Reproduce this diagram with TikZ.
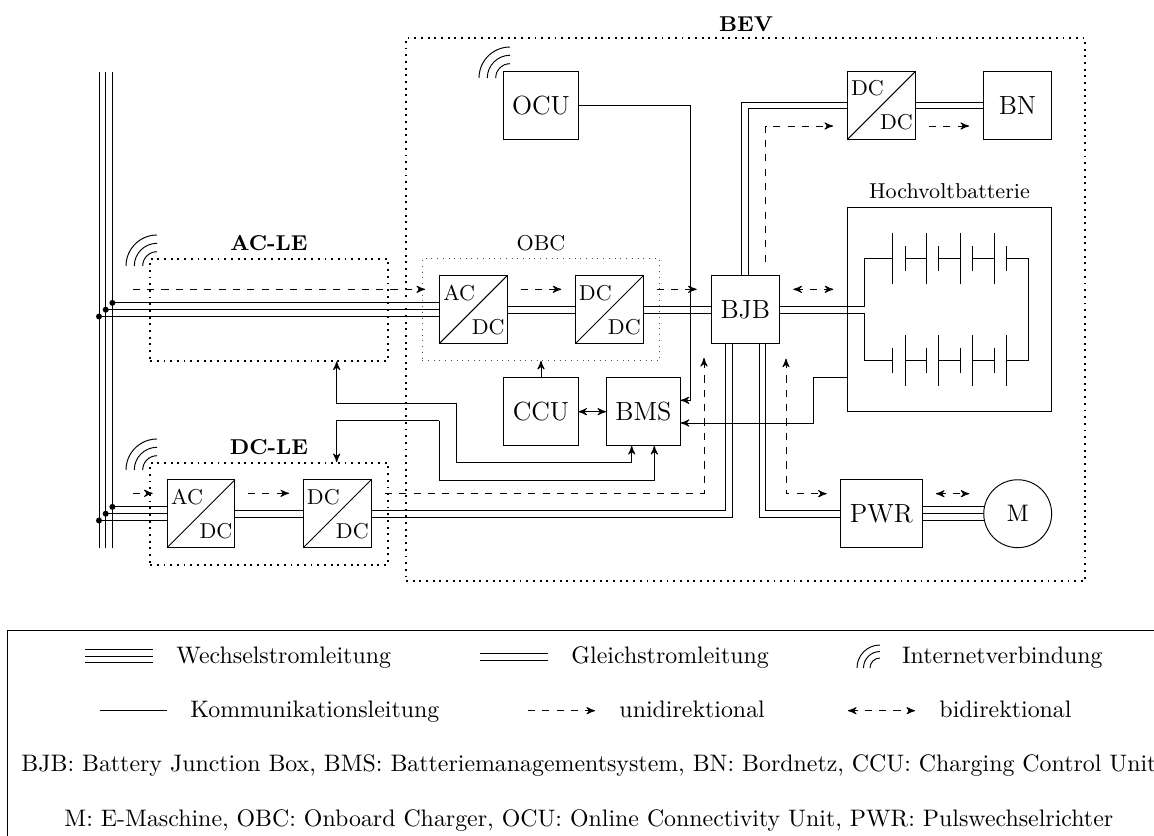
\documentclass[tikz,border=0pt]{standalone}
\usetikzlibrary{arrows,calc}
\tikzset{
  x=0.01473cm,y=-0.01473cm,
  >=stealth',
  bx/.style={draw,inner sep=0pt,outer sep=0pt,minimum width=1cm,minimum height=1cm},
  bxw/.style={bx,minimum width=1.1cm},
  zone/.style={draw,thick,dotted,inner sep=0pt,outer sep=0pt},
  softzone/.style={draw,dotted,inner sep=0pt,outer sep=0pt,black!70},
  title/.style={font=\small\bfseries,inner sep=0pt},
  small label/.style={font=\small,inner sep=0pt},
  conv/.style={font=\small,inner sep=0pt},
  legend/.style={anchor=base west,inner sep=0pt},
  junction/.style={circle,fill,inner sep=0pt,minimum size=1.6mm*0.55},
  comm/.style={->},
  sig/.style={dashed,->},
  bisig/.style={dashed,<->},
  big/.style={font=\fontsize{11}{13}\selectfont},
}
\newcommand{\wifi}[1]{%
  \draw ($(#1)+(-14.3,0)$) arc[start angle=180,end angle=270,radius=14.3];
  \draw ($(#1)+(-22.7,0)$) arc[start angle=180,end angle=270,radius=22.7];
  \draw ($(#1)+(-31,0)$) arc[start angle=180,end angle=270,radius=31];
}
\newcommand{\convlabels}[3]{%
  \draw (#1.south west) -- (#1.north east);
  \node[conv] (#1t) at ($(#1.center)+(-14,-17)$) {#2};
  \node[conv] (#1b) at ($(#1.center)+(15,17)$) {#3};
}
\begin{document}
\begin{tikzpicture}
\useasboundingbox (0,0) rectangle (1154,836);
% zones
\node[zone,minimum width=10cm,minimum height=8cm] (bev) at (745.5,309.4) {};
\node[title] (bevt) at (746,24) {BEV};
\node[zone,minimum width=3.5cm,minimum height=1.5cm] (acle) at (269,309.9) {};
\node[title] (aclet) at (269,243) {AC-LE};
\node[zone,minimum width=3.5cm,minimum height=1.5cm] (dcle) at (269,513.9) {};
\node[title] (dclet) at (269,447) {DC-LE};
\node[softzone,minimum width=3.5cm,minimum height=1.5cm] (obc) at (541,309.9) {};
\node[small label] (obct) at (541,243) {OBC};
% boxes
\node[bx] (dca) at (201,513.7) {}; \convlabels{dca}{AC}{DC}
\node[bx] (dcb) at (337.3,513.7) {}; \convlabels{dcb}{DC}{DC}
\node[bx] (oba) at (473.2,309.7) {}; \convlabels{oba}{AC}{DC}
\node[bx] (obb) at (609.3,309.7) {}; \convlabels{obb}{DC}{DC}
\node[bx,big] (bjb) at (745.3,309.7) {BJB};
\node[bxw,big] (ocu) at (541,105.5) {OCU};
\node[bxw,big] (ccu) at (541,411.7) {CCU};
\node[bxw,big] (bms) at (643.4,411.7) {BMS};
\node[bx] (tdc) at (881.4,105.5) {}; \convlabels{tdc}{DC}{DC}
\node[bx,big] (bn) at (1017.5,105.5) {BN};
\node[bx,big,minimum width=1.2cm] (pwr) at (881.3,513.7) {PWR};
\node[draw,circle,inner sep=0pt,outer sep=0pt,minimum size=1cm] (m) at (1017.7,513.7) {M};
\node[draw,inner sep=0pt,outer sep=0pt,minimum width=3cm,minimum height=3cm] (hv) at (949.5,309.5) {};
\node[small label] (hvt) at (949.5,191.5) {Hochvoltbatterie};
% wifi
\coordinate (wa) at (157,266); \wifi{wa}
\coordinate (wb) at (157,470); \wifi{wb}
\coordinate (wc) at (510,78); \wifi{wc}
% bus
\coordinate (b1t) at (99,72);   \coordinate (b1b) at (99,547.7);
\coordinate (b2t) at (105.7,72); \coordinate (b2b) at (105.7,547.7);
\coordinate (b3t) at (112.4,72); \coordinate (b3b) at (112.4,547.7);
\draw (b1t) -- (b1b); \draw (b2t) -- (b2b); \draw (b3t) -- (b3b);
% AC feeds
\coordinate (obt) at ($(oba.west)+(0,-6.8)$);
\coordinate (obu) at ($(oba.west)+(0,6.8)$);
\coordinate (dct) at ($(dca.west)+(0,-6.8)$);
\coordinate (dcu) at ($(dca.west)+(0,6.8)$);
\draw (obt) -- (obt -| b3t) node[junction] (j1) {};
\draw (oba.west) -- (oba.west -| b2t) node[junction] (j2) {};
\draw (obu) -- (obu -| b1t) node[junction] (j3) {};
\draw (dct) -- (dct -| b3t) node[junction] (j4) {};
\draw (dca.west) -- (dca.west -| b2t) node[junction] (j5) {};
\draw (dcu) -- (dcu -| b1t) node[junction] (j6) {};
% DC links
\foreach \a/\b in {dca/dcb,oba/obb,obb/bjb,tdc/bn}{
  \draw ($(\a.east)+(0,-3.4)$) -- ($(\b.west)+(0,-3.4)$);
  \draw ($(\a.east)+(0,3.4)$) -- ($(\b.west)+(0,3.4)$);
}
% DC-LE to BJB
\draw ($(dcb.east)+(0,-3.4)$) -| ($(bjb.south)+(-20.3,0)$);
\draw ($(dcb.east)+(0,3.4)$) -| ($(bjb.south)+(-13.3,0)$);
% BJB to PWR
\draw ($(pwr.west)+(0,3.4)$) -| ($(bjb.south)+(13.7,0)$);
\draw ($(pwr.west)+(0,-3.4)$) -| ($(bjb.south)+(20.4,0)$);
% BJB to top DC/DC
\draw ($(tdc.west)+(0,-3.4)$) -| ($(bjb.north)+(-3.6,0)$);
\draw ($(tdc.west)+(0,3.4)$) -| ($(bjb.north)+(3.4,0)$);
% PWR to M
\draw ($(pwr.east)+(0,-6.8)$) -- ($(m.west)+(0.7,-6.8)$);
\draw (pwr.east) -- (m.west);
\draw ($(pwr.east)+(0,6.8)$) -- ($(m.west)+(0.7,6.8)$);
% battery
\coordinate (bl) at (864.3,258.7);
\coordinate (bm) at (864.3,360.7);
\coordinate (br) at (1028.3,258.7);
\coordinate (brb) at (1028.3,360.7);
\coordinate (bjt) at ($(bjb.east)+(0,-3.4)$);
\coordinate (bju) at ($(bjb.east)+(0,3.4)$);
\draw (bjt) -- (bjt -| bl) -- (bl) -- (892,258.7);
\draw (bju) -- (bju -| bm) -- (bm) -- (892,360.7);
\draw (1006.7,258.7) -- (br) -- (brb) -- (1006.7,360.7);
\foreach \l/\s in {892/905,926/938.7,960/972.7,994/1006.7}{
  \draw (\l,233.3) -- (\l,284);
  \draw (\s,246) -- (\s,271.3);
  \draw (\s,335.3) -- (\s,386);
  \draw (\l,348) -- (\l,373.3);
}
\foreach \a/\b in {905/926,938.7/960,972.7/994}{
  \draw (\a,258.7) -- (\b,258.7);
  \draw (\a,360.7) -- (\b,360.7);
}
% communication
\draw[comm] (ocu.east) -| (690.8,400.3) -- (bms.east |- 0,400.3);
\draw[comm] (hv.west |- 0,377.7) -- (813.3,377.7) |- (bms.east |- 0,423);
\draw[comm] (ccu.north) -- (obc.south -| ccu.north);
\draw[<->] (ccu.east) -- (bms.west);
\coordinate (u1) at (456,403.3);
\coordinate (u2) at (439.3,420.7);
\draw[comm] (u1) -- (336.7,403.3) -- (336.7,361.5);
\draw[comm] (u1) -- (456,462.7) -- (631.7,462.7) -- (631.7,446);
\draw[comm] (u2) -- (336.7,420.7) -- (336.7,462);
\draw[comm] (u2) -- (439.3,480) -- (654.3,480) -- (654.3,446);
% dashed signals
\draw[sig] (132.7,289.3) -- (425,289.3);
\draw[sig] (132.7,493.3) -- (152.7,493.3);
\draw[sig] (248,493.3) -- (289,493.3);
\draw[sig] (385,493.3) -- (704,493.3) -- (704,358);
\draw[sig] (520.7,289.3) -- (561.3,289.3);
\draw[sig] (656.7,289.3) -- (696.7,289.3);
\draw[bisig] (793.3,289.3) -- (833.3,289.3);
\draw[sig] (765.7,261.7) -- (765.7,126) -- (833,126);
\draw[sig] (929,126) -- (969,126);
\draw[bisig] (786,358.7) -- (786,493.7) -- (826.7,493.7);
\draw[bisig] (936,493.7) -- (969.3,493.7);
% legend
\node[draw,inner sep=0pt,outer sep=0pt,minimum width=17.2cm,minimum height=3.2cm,anchor=north west] (lg) at (7,630) {};
\draw (85,649.3) -- (153,649.3); \draw (85,656) -- (153,656); \draw (85,662.8) -- (153,662.8);
\node[legend] (l1) at (176,663.3) {Wechselstromleitung};
\draw (480,653) -- (548,653); \draw (480,660) -- (548,660);
\node[legend] (l2) at (571,663.3) {Gleichstromleitung};
\coordinate (wd) at (880,668);
\draw ($(wd)+(-10,0)$) arc[start angle=180,end angle=270,radius=10];
\draw ($(wd)+(-16.5,0)$) arc[start angle=180,end angle=270,radius=16.5];
\draw ($(wd)+(-23,0)$) arc[start angle=180,end angle=270,radius=23];
\node[legend] (l3) at (901.6,663.3) {Internetverbindung};
\draw (99.5,710.7) -- (167,710.7);
\node[legend] (l4) at (190,717.7) {Kommunikationsleitung};
\draw[sig] (528,710.7) -- (595,710.7);
\node[legend] (l5) at (619,717.7) {unidirektional};
\draw[bisig] (848,710.7) -- (915,710.7);
\node[legend] (l6) at (939,717.7) {bidirektional};
\node[legend] (l7) at (21,771.7) {BJB: Battery Junction Box, BMS: Batteriemanagementsystem, BN: Bordnetz, CCU: Charging Control Unit};
\node[legend] (l8) at (64,826) {M: E-Maschine, OBC: Onboard Charger, OCU: Online Connectivity Unit, PWR: Pulswechselrichter};
\end{tikzpicture}
\end{document}
